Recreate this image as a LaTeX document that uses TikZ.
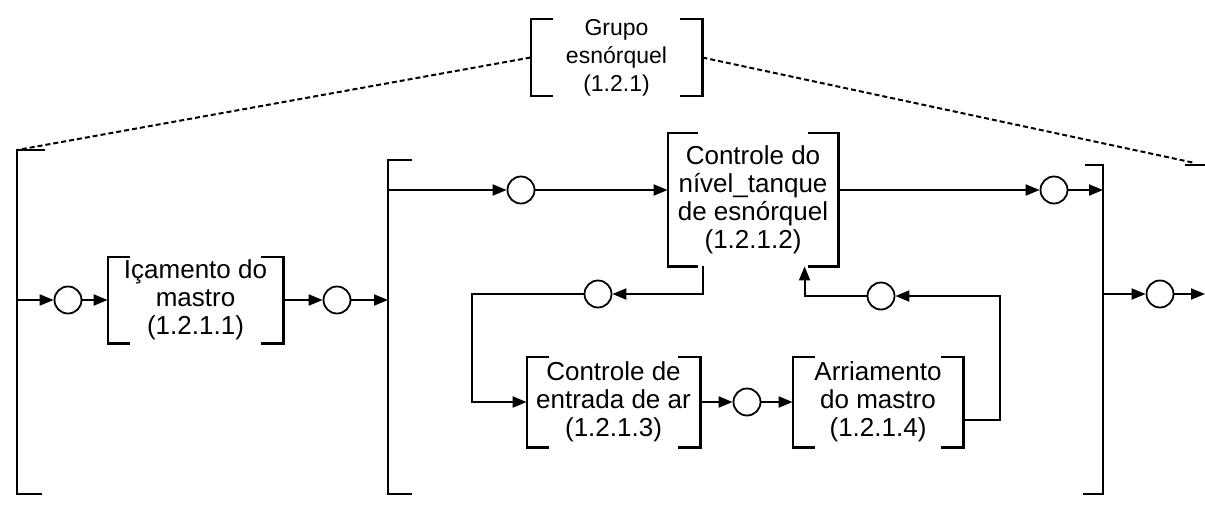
\documentclass[tikz,border=0pt]{standalone}
\usepackage{fontspec}
\setmainfont{Liberation Sans}
\usetikzlibrary{arrows.meta,calc}

\tikzset{
  blk/.style={rectangle,inner sep=0pt,align=center,font=\fontsize{13}{14}\selectfont},
  jn/.style={circle,draw,line width=0.9pt,minimum size=13.5pt,inner sep=0pt},
  flw/.style={line width=1pt,-{Triangle[length=7pt,width=5.5pt]}},
  brk/.style={line width=1.1pt},
  lnk/.style={line width=1pt,dash pattern=on 2.5pt off 1.5pt}
}
\newcommand\brackets[2][22]{%
  \draw[brk] ($(#2.north west)+(#1,0)$) -| (#2.south west) -- ++(#1,0);
  \draw[brk] ($(#2.north east)+(-#1,0)$) -| (#2.south east) -- ++(-#1,0);}

\begin{document}
\begin{tikzpicture}[x=0.5pt,y=-0.5pt]
\useasboundingbox (0,0) rectangle (1205,511);

% blocos
\node[blk,minimum width=85.5pt,minimum height=37.5pt,font=\fontsize{11.5}{14}\selectfont] (grp) at (616.5,57.5) {Grupo\\esnórquel\\(1.2.1)};
\node[blk,minimum width=87.5pt,minimum height=43pt] (ica) at (195.5,300) {Içamento do\\mastro\\(1.2.1.1)};
\node[blk,minimum width=85pt,minimum height=66.5pt] (niv) at (753,199.5) {Controle do\\nível\_tanque\\de esnórquel\\(1.2.1.2)};
\node[blk,minimum width=86.5pt,minimum height=45pt] (ent) at (613.5,402) {Controle de\\entrada de ar\\(1.2.1.3)};
\node[blk,minimum width=85pt,minimum height=45pt] (arr) at (878,402) {Arriamento\\do mastro\\(1.2.1.4)};

\brackets{grp}
\brackets{ica}
\brackets[30]{niv}
\brackets{ent}
\brackets{arr}

% juncoes
\node[jn] (c1) at (68,300) {};
\node[jn] (c2) at (337,300) {};
\node[jn] (c3) at (521,190) {};
\node[jn] (c4) at (1054,190) {};
\node[jn] (c5) at (598,294) {};
\node[jn] (c6) at (747,402) {};
\node[jn] (c7) at (881,296) {};
\node[jn] (c8) at (1160,294) {};

% grupos
\coordinate (oT) at (17,150);
\coordinate (oB) at (17,494);
\coordinate (iT) at (388,160);
\coordinate (iB) at (388,494);
\coordinate (rT) at (1103,165);
\coordinate (rB) at (1103,494);
\coordinate (qT) at (1205,165);
\draw[brk] ($(oT)+(28,0)$) -- (oT) -- (oB) -- ++(25,0);
\draw[brk] ($(iT)+(24,0)$) -- (iT) -- (iB) -- ++(24,0);
\draw[brk] ($(rT)+(-18,0)$) -- (rT) -- (rB) -- ++(-20,0);
\draw[brk] (qT) -- ++(-20,0);

\draw[lnk] (grp.west) -- (oT);
\draw[lnk] (grp.east) -- ($(qT)+(-10,-2)$);

% fluxo
\draw[flw] (oT |- c1) -- (c1);
\draw[flw] (c1) -- (ica);
\draw[flw] (ica) -- (c2);
\draw[flw] (c2) -- (iT |- c2);
\draw[flw] (iT |- c3) -- (c3);
\draw[flw] (c3) -- (niv.west |- c3);
\draw[flw] (niv.east |- c4) -- (c4);
\draw[flw] (c4) -- (rT |- c4);
\draw[flw] (rT |- c8) -- (c8);
\draw[flw] (c8) -- (qT |- c8);
\draw[flw] ($(niv.south west)+(35,0)$) |- (c5);
\draw[flw] (c5) -| ($(ent.west)+(-55,0)$) -- (ent.west);
\draw[flw] (ent) -- (c6);
\draw[flw] (c6) -- (arr);
\draw[flw] ($(arr.south east)+(0,-27)$) -| ($(c7)+(119,0)$) -- (c7);
\draw[flw] (c7) -| ($(niv.south west)+(137,0)$);

\end{tikzpicture}
\end{document}
